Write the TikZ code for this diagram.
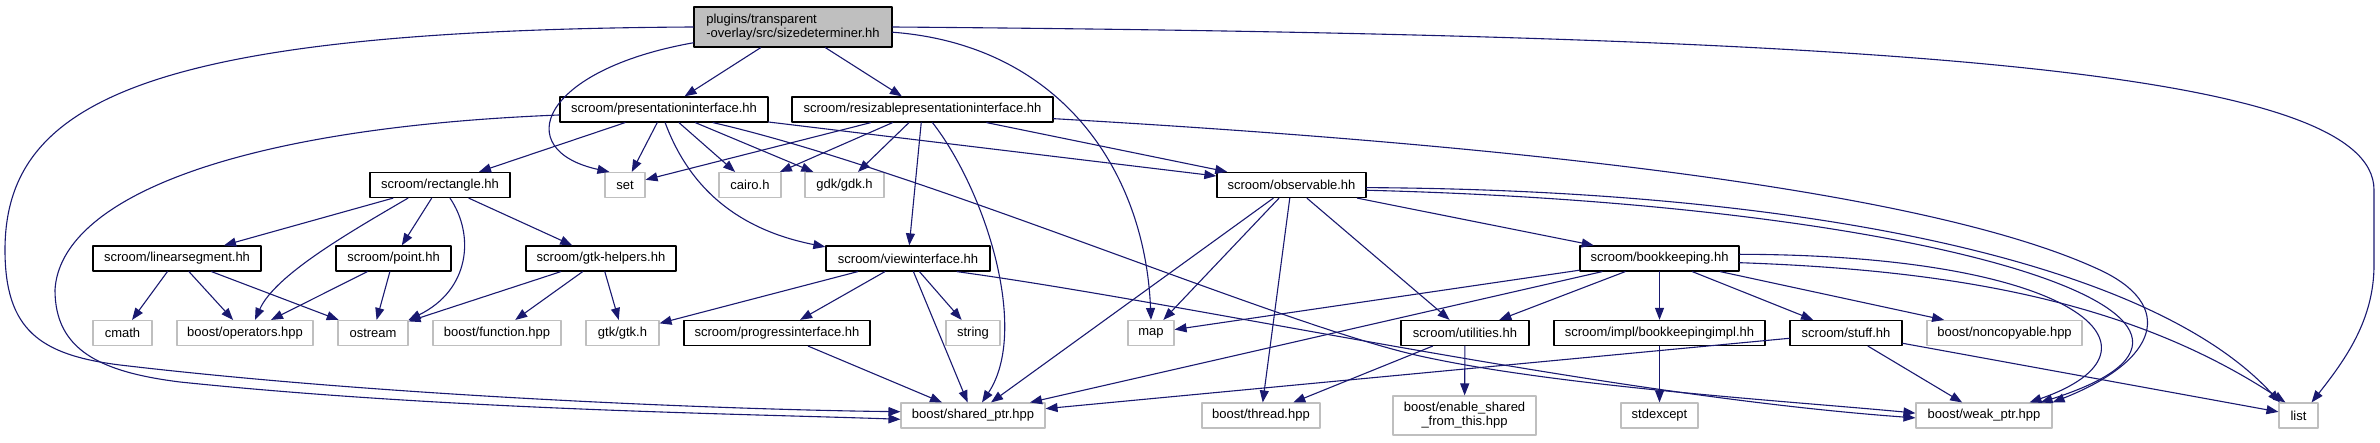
\documentclass[tikz,border=0pt]{standalone}
\usepackage{fontspec}
\setmainfont{Liberation Sans}
\usetikzlibrary{arrows.meta}
\definecolor{edgeblue}{HTML}{191970}
\definecolor{boxgray}{HTML}{BFBFBF}

\begin{document}
\begin{tikzpicture}[x=1pt, y=-1pt, >={Triangle[length=12pt,width=9pt]}, font=\fontsize{13}{14}\selectfont, line join=round, line cap=round,
	localfile/.style={draw=black, line width=1.3pt, fill=white, minimum width=#1, minimum height=25pt, inner sep=0pt},
	sysfile/.style={draw=boxgray, line width=1.1pt, fill=white, minimum width=#1, minimum height=25pt, inner sep=0pt},
	dep/.style={->, draw=edgeblue, line width=1.1pt}]
	\useasboundingbox (0,0) rectangle (2380,443);
	\node[localfile=198, minimum height=40pt, fill=boxgray, align=left] (root) at (793,27) {plugins/transparent\\-overlay/src/sizedeterminer.hh};
	\node[localfile=208] (pres) at (664,109.5) {scroom/presentationinterface.hh};
	\node[localfile=261] (resiz) at (922.5,109.5) {scroom/resizablepresentationinterface.hh};
	\node[localfile=140] (rect) at (440,185) {scroom/rectangle.hh};
	\node[sysfile=40] (set) at (625,185) {set};
	\node[sysfile=62] (cairo) at (750,185) {cairo.h};
	\node[sysfile=79] (gdk) at (844.5,185) {gdk/gdk.h};
	\node[localfile=149] (obs) at (1291.5,185) {scroom/observable.hh};
	\node[localfile=168] (linseg) at (177,258.5) {scroom/linearsegment.hh};
	\node[localfile=115] (point) at (393.5,258.5) {scroom/point.hh};
	\node[localfile=150] (gtkh) at (601,258.5) {scroom/gtk-helpers.hh};
	\node[localfile=164] (view) at (908,258.5) {scroom/viewinterface.hh};
	\node[localfile=159] (book) at (1659.5,258.5) {scroom/bookkeeping.hh};
	\node[sysfile=59] (cmath) at (122.5,333) {cmath};
	\node[sysfile=136] (ops) at (245,333) {boost/operators.hpp};
	\node[sysfile=70] (ostream) at (373,333) {ostream};
	\node[sysfile=128] (func) at (497,333) {boost/function.hpp};
	\node[sysfile=73] (gtk) at (622.5,333) {gtk/gtk.h};
	\node[localfile=186] (prog) at (777,333) {scroom/progressinterface.hh};
	\node[sysfile=54] (string) at (973,333) {string};
	\node[sysfile=46] (map) at (1151,333) {map};
	\node[localfile=128] (util) at (1465,333) {scroom/utilities.hh};
	\node[localfile=211] (impl) at (1659.5,333) {scroom/impl/bookkeepingimpl.hh};
	\node[localfile=112] (stuff) at (1846,333) {scroom/stuff.hh};
	\node[sysfile=155] (noncopy) at (2004.5,333) {boost/noncopyable.hpp};
	\node[sysfile=144] (shared) at (973,415.5) {boost/shared\_ptr.hpp};
	\node[sysfile=118] (thread) at (1261,415.5) {boost/thread.hpp};
	\node[sysfile=143, minimum height=39pt, align=center] (enable) at (1464.5,415.5) {boost/enable\_shared\\\_from\_this.hpp};
	\node[sysfile=77] (stdexc) at (1659.5,415.5) {stdexcept};
	\node[sysfile=136] (weak) at (1984,415.5) {boost/weak\_ptr.hpp};
	\node[sysfile=39] (list) at (2298.5,415.5) {list};
	\foreach \a/\b in {root/pres, root/resiz, pres/rect, pres/set, pres/cairo, pres/gdk, pres/obs,
		resiz/set, resiz/cairo, resiz/gdk, resiz/obs, resiz/view, rect/linseg, rect/point, rect/gtkh,
		linseg/cmath, linseg/ops, linseg/ostream, point/ops, point/ostream, gtkh/ostream, gtkh/func, gtkh/gtk,
		view/gtk, view/prog, view/string, view/shared, prog/shared, obs/shared, obs/map, obs/thread, obs/util, obs/book,
		book/map, book/shared, book/util, book/impl, book/stuff, book/noncopy, util/thread, util/enable, impl/stdexc,
		stuff/shared, stuff/weak, stuff/list}
		\draw[dep] (\a) -- (\b);
	\draw[dep] (root.west) .. controls (150,30) and (5,100) .. (5,250) .. controls (5,330) and (40,355) .. (120,365) .. controls (400,398) and (750,410) .. (shared.177);
	\draw[dep] (pres.183) .. controls (230,128) and (60,200) .. (55,290) .. controls (55,350) and (100,372) .. (180,382) .. controls (450,410) and (750,414) .. (shared.183);
	\draw[dep] (root.189) .. controls (540,70) and (510,150) .. (set.140);
	\draw[dep] (root.-3) .. controls (1060,45) and (1145,170) .. (map.north);
	\draw[dep] (root.east) .. controls (1900,35) and (2374,70) .. (2374,190) -- (2374,265) .. controls (2374,320) and (2345,360) .. (list.45);
	\draw[dep] (pres.-85) .. controls (690,190) and (740,230) .. (view.172);
	\draw[dep] (pres.-15) .. controls (920,170) and (1280,325) .. (1420,356) .. controls (1560,387) and (1800,402) .. (weak.178);
	\draw[dep] (view.-15) .. controls (1200,305) and (1600,395) .. (weak.182);
	\draw[dep] ([xshift=10pt]resiz.south) .. controls (985,190) and (1030,330) .. ([xshift=9pt]shared.north);
	\draw[dep] (resiz.-4) .. controls (1600,150) and (1950,200) .. (2100,270) .. controls (2175,305) and (2160,360) .. (weak.north east);
	\draw[dep] (obs.-4) .. controls (1950,205) and (2300,320) .. (weak.13);
	\draw[dep] (obs.-2) .. controls (1800,190) and (2150,260) .. (list.145);
	\draw[dep] (book.3) .. controls (2080,255) and (2180,350) .. (weak.16);
	\draw[dep] (book.-3) .. controls (1950,270) and (2130,300) .. (list.135);
	\draw[dep] ([xshift=-32pt]rect.south) .. controls (350,232) and (275,275) .. ([xshift=10pt]ops.north);
	\draw[dep] ([xshift=10pt]rect.south) .. controls (475,235) and (470,290) .. (ostream.north east);
\end{tikzpicture}
\end{document}
